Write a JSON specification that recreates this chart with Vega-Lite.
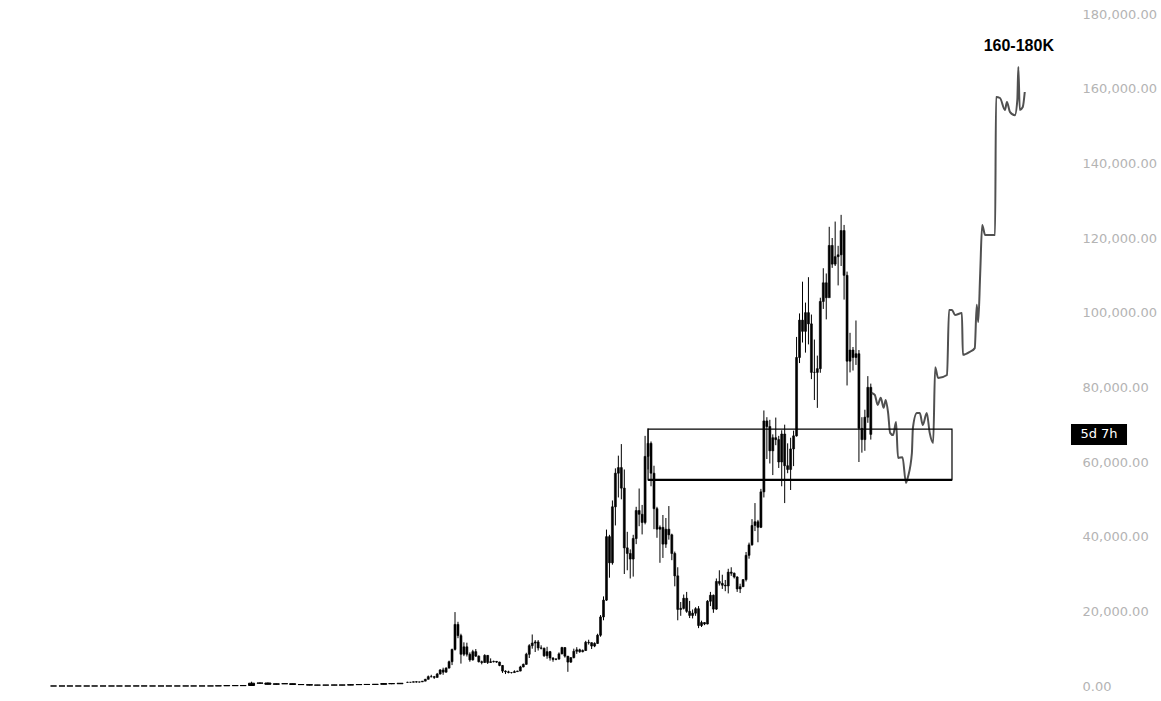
{
  "$schema": "https://vega.github.io/schema/vega-lite/v6.json",
  "width": 1070,
  "height": 672,
  "autosize": "none",
  "padding": {"left": 0, "top": 14, "right": 91, "bottom": 15},
  "background": "white",
  "config": {
    "view": {"stroke": null},
    "axisY": {"labelColor": "#b4b4b4", "labelFont": "DejaVu Sans", "labelFontSize": 13, "labelAlign": "left", "labelBaseline": "middle", "labelPadding": 12, "ticks": false, "domain": false, "grid": false, "labelFlush": false}
  },
  "datasets": {
    "early": [
      {"t":2009.85,"o":0.01,"h":0.01,"l":0.01,"c":0.01},
      {"t":2010.02,"o":0.01,"h":0.01,"l":0.01,"c":0.01},
      {"t":2010.18,"o":0.01,"h":0.01,"l":0.01,"c":0.01},
      {"t":2010.35,"o":0.01,"h":0.01,"l":0.01,"c":0.01},
      {"t":2010.52,"o":0.01,"h":0.09,"l":0.01,"c":0.07},
      {"t":2010.68,"o":0.07,"h":0.07,"l":0.05,"c":0.06},
      {"t":2010.85,"o":0.06,"h":0.5,"l":0.06,"c":0.2},
      {"t":2011.02,"o":0.2,"h":0.4,"l":0.2,"c":0.3},
      {"t":2011.18,"o":0.3,"h":1.1,"l":0.3,"c":0.9},
      {"t":2011.35,"o":0.9,"h":9,"l":0.7,"c":4},
      {"t":2011.52,"o":4,"h":32,"l":4,"c":14},
      {"t":2011.68,"o":14,"h":15,"l":5,"c":5},
      {"t":2011.85,"o":5,"h":6,"l":2,"c":3},
      {"t":2012.02,"o":3,"h":7,"l":3,"c":6},
      {"t":2012.18,"o":6,"h":6,"l":4,"c":5},
      {"t":2012.35,"o":5,"h":5.2,"l":4.8,"c":5},
      {"t":2012.52,"o":5,"h":9,"l":5,"c":9},
      {"t":2012.68,"o":9,"h":13,"l":8,"c":12},
      {"t":2012.85,"o":12,"h":13,"l":10,"c":12},
      {"t":2013.02,"o":12,"h":16,"l":12,"c":14},
      {"t":2013.18,"o":14,"h":75,"l":14,"c":60},
      {"t":2013.35,"o":60,"h":266,"l":60,"c":120},
      {"t":2013.52,"o":120,"h":130,"l":65,"c":90},
      {"t":2013.68,"o":90,"h":140,"l":90,"c":130},
      {"t":2013.85,"o":130,"h":1150,"l":130,"c":750},
      {"t":2014.02,"o":750,"h":1000,"l":550,"c":800},
      {"t":2014.18,"o":800,"h":950,"l":420,"c":450},
      {"t":2014.35,"o":450,"h":650,"l":350,"c":600},
      {"t":2014.52,"o":600,"h":680,"l":560,"c":620},
      {"t":2014.68,"o":620,"h":630,"l":380,"c":400},
      {"t":2014.85,"o":400,"h":460,"l":320,"c":370},
      {"t":2015.02,"o":370,"h":380,"l":160,"c":230},
      {"t":2015.18,"o":230,"h":300,"l":200,"c":250},
      {"t":2015.35,"o":250,"h":260,"l":210,"c":235},
      {"t":2015.52,"o":235,"h":310,"l":230,"c":280},
      {"t":2015.68,"o":280,"h":290,"l":210,"c":240},
      {"t":2015.85,"o":240,"h":500,"l":230,"c":360},
      {"t":2016.02,"o":360,"h":470,"l":350,"c":400},
      {"t":2016.18,"o":400,"h":440,"l":360,"c":420},
      {"t":2016.35,"o":420,"h":460,"l":400,"c":450},
      {"t":2016.52,"o":450,"h":780,"l":440,"c":650},
      {"t":2016.68,"o":650,"h":650,"l":480,"c":610},
      {"t":2016.85,"o":610,"h":780,"l":590,"c":730}
    ],
    "main": [
      {"t":2017.00,"o":960,"h":1130,"l":900,"c":1000},
      {"t":2017.06,"o":1000,"h":1050,"l":900,"c":1000},
      {"t":2017.12,"o":1000,"h":1200,"l":980,"c":1150},
      {"t":2017.18,"o":1150,"h":1300,"l":900,"c":1050},
      {"t":2017.24,"o":1050,"h":1150,"l":940,"c":1100},
      {"t":2017.30,"o":1100,"h":1350,"l":1080,"c":1300},
      {"t":2017.36,"o":1300,"h":1900,"l":1280,"c":1800},
      {"t":2017.42,"o":1800,"h":2800,"l":1750,"c":2500},
      {"t":2017.48,"o":2500,"h":3000,"l":2300,"c":2500},
      {"t":2017.54,"o":2500,"h":2700,"l":1900,"c":2300},
      {"t":2017.60,"o":2300,"h":3500,"l":2250,"c":3200},
      {"t":2017.66,"o":3200,"h":4500,"l":3100,"c":4300},
      {"t":2017.72,"o":4300,"h":4900,"l":3000,"c":3700},
      {"t":2017.78,"o":3700,"h":5000,"l":3600,"c":4800},
      {"t":2017.84,"o":4800,"h":6800,"l":4700,"c":6500},
      {"t":2017.90,"o":6500,"h":10000,"l":5600,"c":9800},
      {"t":2017.96,"o":9800,"h":19800,"l":9500,"c":16500},
      {"t":2018.02,"o":16500,"h":17200,"l":12800,"c":13500},
      {"t":2018.08,"o":13500,"h":14000,"l":6000,"c":8500},
      {"t":2018.14,"o":8500,"h":11700,"l":8000,"c":10500},
      {"t":2018.20,"o":10500,"h":11600,"l":7900,"c":8500},
      {"t":2018.26,"o":8500,"h":9000,"l":6500,"c":7000},
      {"t":2018.32,"o":7000,"h":9700,"l":6800,"c":9200},
      {"t":2018.38,"o":9200,"h":9900,"l":7800,"c":8000},
      {"t":2018.44,"o":8000,"h":8200,"l":6300,"c":6500},
      {"t":2018.50,"o":6500,"h":6800,"l":5800,"c":6300},
      {"t":2018.56,"o":6300,"h":8500,"l":6200,"c":8200},
      {"t":2018.62,"o":8200,"h":8300,"l":5900,"c":6300},
      {"t":2018.68,"o":6300,"h":7400,"l":6200,"c":6500},
      {"t":2018.74,"o":6500,"h":6800,"l":6300,"c":6600},
      {"t":2018.80,"o":6600,"h":6700,"l":6200,"c":6400},
      {"t":2018.86,"o":6400,"h":6500,"l":5300,"c":5500},
      {"t":2018.92,"o":5500,"h":5600,"l":3500,"c":4000},
      {"t":2018.98,"o":4000,"h":4200,"l":3200,"c":3800},
      {"t":2019.04,"o":3800,"h":4100,"l":3400,"c":3600},
      {"t":2019.10,"o":3600,"h":3700,"l":3350,"c":3600},
      {"t":2019.16,"o":3600,"h":4200,"l":3550,"c":3850},
      {"t":2019.22,"o":3850,"h":4100,"l":3800,"c":4000},
      {"t":2019.28,"o":4000,"h":5400,"l":3950,"c":5100},
      {"t":2019.34,"o":5100,"h":6000,"l":5000,"c":5800},
      {"t":2019.40,"o":5800,"h":8900,"l":5700,"c":8500},
      {"t":2019.46,"o":8500,"h":11200,"l":7500,"c":10800},
      {"t":2019.52,"o":10800,"h":13800,"l":10000,"c":11500},
      {"t":2019.58,"o":11500,"h":12300,"l":9100,"c":11800},
      {"t":2019.64,"o":11800,"h":12300,"l":9500,"c":10200},
      {"t":2019.70,"o":10200,"h":10900,"l":9800,"c":10100},
      {"t":2019.76,"o":10100,"h":10300,"l":7800,"c":8100},
      {"t":2019.82,"o":8100,"h":10500,"l":7300,"c":9200},
      {"t":2019.88,"o":9200,"h":9400,"l":6800,"c":7500},
      {"t":2019.94,"o":7500,"h":7700,"l":6500,"c":7100},
      {"t":2020.00,"o":7100,"h":7500,"l":6900,"c":7200},
      {"t":2020.06,"o":7200,"h":9000,"l":7100,"c":8600},
      {"t":2020.12,"o":8600,"h":10500,"l":8500,"c":10300},
      {"t":2020.18,"o":10300,"h":10400,"l":7600,"c":8000},
      {"t":2020.24,"o":8000,"h":8000,"l":3800,"c":6400},
      {"t":2020.30,"o":6400,"h":7700,"l":6200,"c":7600},
      {"t":2020.36,"o":7600,"h":10000,"l":7400,"c":9300},
      {"t":2020.42,"o":9300,"h":10400,"l":8600,"c":9700},
      {"t":2020.48,"o":9700,"h":10000,"l":8900,"c":9200},
      {"t":2020.54,"o":9200,"h":9800,"l":9000,"c":9500},
      {"t":2020.60,"o":9500,"h":12100,"l":9400,"c":11700},
      {"t":2020.66,"o":11700,"h":12400,"l":11100,"c":11600},
      {"t":2020.72,"o":11600,"h":11700,"l":9900,"c":10700},
      {"t":2020.78,"o":10700,"h":11700,"l":10400,"c":11400},
      {"t":2020.84,"o":11400,"h":14000,"l":11300,"c":13600},
      {"t":2020.90,"o":13600,"h":19000,"l":13200,"c":18500},
      {"t":2020.96,"o":18500,"h":24000,"l":17600,"c":23000},
      {"t":2021.02,"o":23000,"h":41900,"l":22800,"c":40000},
      {"t":2021.08,"o":40000,"h":40500,"l":29000,"c":33000},
      {"t":2021.14,"o":33000,"h":49700,"l":32500,"c":48000},
      {"t":2021.20,"o":48000,"h":58300,"l":43000,"c":57000},
      {"t":2021.26,"o":57000,"h":61700,"l":50500,"c":58500},
      {"t":2021.32,"o":58500,"h":64800,"l":50000,"c":53000},
      {"t":2021.38,"o":53000,"h":58000,"l":30000,"c":37000},
      {"t":2021.44,"o":37000,"h":41300,"l":31000,"c":35500},
      {"t":2021.50,"o":35500,"h":36600,"l":28800,"c":34000},
      {"t":2021.56,"o":34000,"h":40500,"l":29300,"c":39500},
      {"t":2021.62,"o":39500,"h":48000,"l":38000,"c":47000},
      {"t":2021.68,"o":47000,"h":52900,"l":42800,"c":46000},
      {"t":2021.74,"o":46000,"h":48500,"l":40600,"c":43800},
      {"t":2021.80,"o":43800,"h":67000,"l":43300,"c":61500},
      {"t":2021.86,"o":61500,"h":69000,"l":58000,"c":65000},
      {"t":2021.92,"o":65000,"h":65500,"l":53500,"c":57000},
      {"t":2021.98,"o":57000,"h":59000,"l":42000,"c":47500},
      {"t":2022.04,"o":47500,"h":48000,"l":39700,"c":42000},
      {"t":2022.10,"o":42000,"h":43000,"l":33000,"c":42500},
      {"t":2022.16,"o":42500,"h":45800,"l":34300,"c":38000},
      {"t":2022.22,"o":38000,"h":45000,"l":37000,"c":42000},
      {"t":2022.28,"o":42000,"h":48200,"l":39200,"c":40500},
      {"t":2022.34,"o":40500,"h":40800,"l":33700,"c":35500},
      {"t":2022.40,"o":35500,"h":36000,"l":26700,"c":29500},
      {"t":2022.46,"o":29500,"h":31800,"l":17600,"c":20500},
      {"t":2022.52,"o":20500,"h":22500,"l":18800,"c":20800},
      {"t":2022.58,"o":20800,"h":24500,"l":20500,"c":23500},
      {"t":2022.64,"o":23500,"h":25200,"l":19600,"c":20000},
      {"t":2022.70,"o":20000,"h":22800,"l":18200,"c":18900},
      {"t":2022.76,"o":18900,"h":20500,"l":18100,"c":19500},
      {"t":2022.82,"o":19500,"h":21100,"l":18800,"c":20700},
      {"t":2022.88,"o":20700,"h":21400,"l":15500,"c":16200},
      {"t":2022.94,"o":16200,"h":17500,"l":15800,"c":17000},
      {"t":2023.00,"o":17000,"h":17100,"l":16300,"c":16600},
      {"t":2023.06,"o":16600,"h":23000,"l":16500,"c":22700},
      {"t":2023.12,"o":22700,"h":25200,"l":21400,"c":24300},
      {"t":2023.18,"o":24300,"h":24500,"l":19600,"c":20600},
      {"t":2023.24,"o":20600,"h":28800,"l":20400,"c":28000},
      {"t":2023.30,"o":28000,"h":31000,"l":26900,"c":27500},
      {"t":2023.36,"o":27500,"h":29800,"l":26000,"c":27000},
      {"t":2023.42,"o":27000,"h":28400,"l":25400,"c":26800},
      {"t":2023.48,"o":26800,"h":31400,"l":24800,"c":30500},
      {"t":2023.54,"o":30500,"h":31800,"l":29500,"c":30200},
      {"t":2023.60,"o":30200,"h":30400,"l":28800,"c":29200},
      {"t":2023.66,"o":29200,"h":29400,"l":25200,"c":26000},
      {"t":2023.72,"o":26000,"h":27400,"l":24900,"c":26600},
      {"t":2023.78,"o":26600,"h":28600,"l":26500,"c":28500},
      {"t":2023.84,"o":28500,"h":35900,"l":28000,"c":35000},
      {"t":2023.90,"o":35000,"h":38400,"l":34100,"c":37800},
      {"t":2023.96,"o":37800,"h":44700,"l":37600,"c":43000},
      {"t":2024.02,"o":43000,"h":49000,"l":41500,"c":44000},
      {"t":2024.08,"o":44000,"h":44500,"l":38500,"c":42500},
      {"t":2024.14,"o":42500,"h":52800,"l":42300,"c":52000},
      {"t":2024.20,"o":52000,"h":73800,"l":50500,"c":71000},
      {"t":2024.26,"o":71000,"h":72000,"l":60800,"c":69500},
      {"t":2024.32,"o":69500,"h":71300,"l":59600,"c":63000},
      {"t":2024.38,"o":63000,"h":67400,"l":56500,"c":66500},
      {"t":2024.44,"o":66500,"h":71900,"l":64500,"c":66000},
      {"t":2024.50,"o":66000,"h":67000,"l":58400,"c":60000},
      {"t":2024.56,"o":60000,"h":68500,"l":53500,"c":67500},
      {"t":2024.62,"o":67500,"h":70000,"l":49000,"c":59000},
      {"t":2024.68,"o":59000,"h":65000,"l":57000,"c":58000},
      {"t":2024.74,"o":58000,"h":66500,"l":52500,"c":63500},
      {"t":2024.80,"o":63500,"h":68400,"l":58900,"c":67000},
      {"t":2024.86,"o":67000,"h":93500,"l":66800,"c":88000},
      {"t":2024.92,"o":88000,"h":99800,"l":86500,"c":98000},
      {"t":2024.98,"o":98000,"h":108300,"l":92000,"c":95000},
      {"t":2025.04,"o":95000,"h":102700,"l":89300,"c":100000},
      {"t":2025.10,"o":100000,"h":109500,"l":91500,"c":97000},
      {"t":2025.16,"o":97000,"h":99500,"l":82200,"c":84000},
      {"t":2025.22,"o":84000,"h":92800,"l":76600,"c":84000},
      {"t":2025.28,"o":84000,"h":88500,"l":74500,"c":85000},
      {"t":2025.34,"o":85000,"h":104000,"l":83900,"c":103000},
      {"t":2025.40,"o":103000,"h":111900,"l":101000,"c":108000},
      {"t":2025.46,"o":108000,"h":110500,"l":98200,"c":104000},
      {"t":2025.52,"o":104000,"h":123000,"l":105000,"c":118000},
      {"t":2025.58,"o":118000,"h":120000,"l":112000,"c":113000},
      {"t":2025.64,"o":113000,"h":124400,"l":112500,"c":115000},
      {"t":2025.70,"o":115000,"h":117900,"l":107300,"c":115500},
      {"t":2025.76,"o":115500,"h":126200,"l":112500,"c":122000},
      {"t":2025.82,"o":122000,"h":123500,"l":103500,"c":110000},
      {"t":2025.88,"o":110000,"h":111000,"l":80500,"c":87000},
      {"t":2025.94,"o":87000,"h":94600,"l":84000,"c":90000},
      {"t":2026.00,"o":90000,"h":90800,"l":84500,"c":88000},
      {"t":2026.06,"o":88000,"h":97900,"l":86000,"c":89000},
      {"t":2026.12,"o":89000,"h":90000,"l":60000,"c":69000},
      {"t":2026.18,"o":69000,"h":72000,"l":62500,"c":66000},
      {"t":2026.24,"o":66000,"h":74000,"l":63000,"c":72000},
      {"t":2026.30,"o":72000,"h":83000,"l":70500,"c":80000},
      {"t":2026.36,"o":80000,"h":81000,"l":66000,"c":67400}
    ],
    "proj": [
      {"t":2026.38,"p":78500},
      {"t":2026.44,"p":78000},
      {"t":2026.50,"p":75300},
      {"t":2026.56,"p":77200},
      {"t":2026.62,"p":74500},
      {"t":2026.66,"p":76600},
      {"t":2026.71,"p":73100},
      {"t":2026.75,"p":67800},
      {"t":2026.81,"p":67200},
      {"t":2026.87,"p":70700},
      {"t":2026.91,"p":61100},
      {"t":2027.00,"p":61300},
      {"t":2027.07,"p":54400},
      {"t":2027.11,"p":56000},
      {"t":2027.19,"p":62400},
      {"t":2027.21,"p":69100},
      {"t":2027.29,"p":73100},
      {"t":2027.35,"p":73100},
      {"t":2027.41,"p":69900},
      {"t":2027.49,"p":73100},
      {"t":2027.55,"p":67800},
      {"t":2027.62,"p":65100},
      {"t":2027.66,"p":85400},
      {"t":2027.72,"p":82500},
      {"t":2027.90,"p":83300},
      {"t":2027.94,"p":100700},
      {"t":2028.00,"p":100700},
      {"t":2028.06,"p":99400},
      {"t":2028.20,"p":99900},
      {"t":2028.22,"p":88700},
      {"t":2028.36,"p":89500},
      {"t":2028.46,"p":90500},
      {"t":2028.50,"p":102100},
      {"t":2028.53,"p":97500},
      {"t":2028.57,"p":110600},
      {"t":2028.61,"p":123500},
      {"t":2028.67,"p":120800},
      {"t":2028.87,"p":120800},
      {"t":2028.89,"p":157800},
      {"t":2028.97,"p":157500},
      {"t":2029.07,"p":154300},
      {"t":2029.11,"p":156400},
      {"t":2029.17,"p":153800},
      {"t":2029.27,"p":152900},
      {"t":2029.32,"p":157000},
      {"t":2029.34,"p":165800},
      {"t":2029.37,"p":154300},
      {"t":2029.43,"p":155100},
      {"t":2029.47,"p":159100}
    ],
    "box": [
      {"t1":2021.86,"t2":2028.0,"lo":55200,"hi":68800}
    ],
    "notes": [
      {"t":2029.35,"price":171400,"label":"160-180K"}
    ],
    "timer": [
      {"price":67370,"label":"5d 7h"}
    ]
  },
  "layer": [
    {
      "data": {"name": "early"},
      "mark": {"type": "rule", "color": "black", "strokeWidth": 1},
      "encoding": {
        "x": {"field": "t", "type": "quantitative", "scale": {"domain": [2008.768, 2030.384], "nice": false, "zero": false, "padding": 0}, "axis": null},
        "y": {"field": "l", "type": "quantitative", "scale": {"domain": [0, 180000], "nice": false, "padding": 0},
              "axis": {"orient": "right", "values": [0,20000,40000,60000,80000,100000,120000,140000,160000,180000], "format": ",.2f", "title": null}},
        "y2": {"field": "h"}
      }
    },
    {
      "data": {"name": "early"},
      "mark": {"type": "bar", "size": 6, "color": "black", "stroke": "black", "strokeWidth": 1},
      "encoding": {
        "x": {"field": "t", "type": "quantitative", "axis": null},
        "y": {"field": "o", "type": "quantitative",
              "axis": {"orient": "right", "values": [0,20000,40000,60000,80000,100000,120000,140000,160000,180000], "format": ",.2f", "title": null}},
        "y2": {"field": "c"}
      }
    },
    {
      "data": {"name": "main"},
      "mark": {"type": "rule", "color": "black", "strokeWidth": 1},
      "encoding": {
        "x": {"field": "t", "type": "quantitative", "axis": null},
        "y": {"field": "l", "type": "quantitative",
              "axis": {"orient": "right", "values": [0,20000,40000,60000,80000,100000,120000,140000,160000,180000], "format": ",.2f", "title": null}},
        "y2": {"field": "h"}
      }
    },
    {
      "data": {"name": "main"},
      "mark": {"type": "bar", "size": 2, "color": "black", "stroke": "black", "strokeWidth": 0.6},
      "encoding": {
        "x": {"field": "t", "type": "quantitative", "axis": null},
        "y": {"field": "o", "type": "quantitative",
              "axis": {"orient": "right", "values": [0,20000,40000,60000,80000,100000,120000,140000,160000,180000], "format": ",.2f", "title": null}},
        "y2": {"field": "c"}
      }
    },
    {
      "data": {"name": "proj"},
      "mark": {"type": "line", "color": "#505050", "strokeWidth": 2, "interpolate": "monotone"},
      "encoding": {
        "x": {"field": "t", "type": "quantitative", "axis": null},
        "y": {"field": "p", "type": "quantitative",
              "axis": {"orient": "right", "values": [0,20000,40000,60000,80000,100000,120000,140000,160000,180000], "format": ",.2f", "title": null}}
      }
    },
    {
      "data": {"name": "box"},
      "mark": {"type": "rect", "fillOpacity": 0, "stroke": "black", "strokeWidth": 1.2},
      "encoding": {
        "x": {"field": "t1", "type": "quantitative", "axis": null},
        "x2": {"field": "t2"},
        "y": {"field": "lo", "type": "quantitative",
              "axis": {"orient": "right", "values": [0,20000,40000,60000,80000,100000,120000,140000,160000,180000], "format": ",.2f", "title": null}},
        "y2": {"field": "hi"}
      }
    },
    {
      "data": {"name": "box"},
      "mark": {"type": "rule", "color": "black", "strokeWidth": 2.2},
      "encoding": {
        "x": {"field": "t1", "type": "quantitative", "axis": null},
        "x2": {"field": "t2"},
        "y": {"field": "lo", "type": "quantitative",
              "axis": {"orient": "right", "values": [0,20000,40000,60000,80000,100000,120000,140000,160000,180000], "format": ",.2f", "title": null}}
      }
    },
    {
      "data": {"name": "timer"},
      "mark": {"type": "rect", "color": "black"},
      "encoding": {
        "x": {"datum": 2030.404, "type": "quantitative", "axis": null},
        "x2": {"datum": 2031.536},
        "y": {"datum": 64550, "type": "quantitative",
              "axis": {"orient": "right", "values": [0,20000,40000,60000,80000,100000,120000,140000,160000,180000], "format": ",.2f", "title": null}},
        "y2": {"datum": 70180}
      }
    },
    {
      "data": {"name": "timer"},
      "mark": {"type": "text", "color": "white", "font": "DejaVu Sans", "fontSize": 13, "align": "center", "baseline": "middle"},
      "encoding": {
        "x": {"datum": 2030.97, "type": "quantitative", "axis": null},
        "y": {"field": "price", "type": "quantitative",
              "axis": {"orient": "right", "values": [0,20000,40000,60000,80000,100000,120000,140000,160000,180000], "format": ",.2f", "title": null}},
        "text": {"field": "label"}
      }
    },
    {
      "data": {"name": "notes"},
      "mark": {"type": "text", "color": "black", "font": "Liberation Sans", "fontWeight": "bold", "fontSize": 16, "align": "center", "baseline": "middle"},
      "encoding": {
        "x": {"field": "t", "type": "quantitative", "axis": null},
        "y": {"field": "price", "type": "quantitative",
              "axis": {"orient": "right", "values": [0,20000,40000,60000,80000,100000,120000,140000,160000,180000], "format": ",.2f", "title": null}},
        "text": {"field": "label"}
      }
    }
  ]
}
